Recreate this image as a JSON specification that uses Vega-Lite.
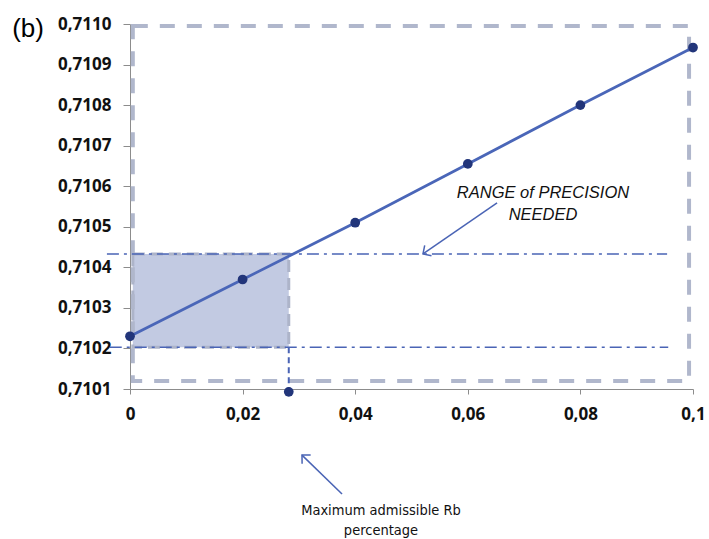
{
  "$schema": "https://vega.github.io/schema/vega-lite/v6.json",
  "width": 563,
  "height": 365,
  "autosize": {"type": "none"},
  "padding": {"left": 130, "top": 24, "right": 16, "bottom": 150},
  "background": "white",
  "config": {
    "view": {"stroke": null},
    "axis": {"grid": false, "labelFlush": false, "domainColor": "#8c8c8c", "tickColor": "#8c8c8c", "labelFont": "Open Sans", "labelFontWeight": "bold", "labelFontSize": 17, "labelColor": "#111111", "title": null}
  },
  "datasets": {
    "pts": [
      {"x": 0, "y": 0.71023},
      {"x": 0.02, "y": 0.71037},
      {"x": 0.04, "y": 0.71051},
      {"x": 0.06, "y": 0.710655},
      {"x": 0.08, "y": 0.7108},
      {"x": 0.1, "y": 0.710942}
    ],
    "box": [{"x": 0.0005, "x2": 0.0993, "y": 0.71012, "y2": 0.710995}],
    "shade": [{"x": 0.0005, "x2": 0.0282, "y": 0.710203, "y2": 0.710433}],
    "hlines": [
      {"x": -0.0041, "x2": 0.0954, "y": 0.710433},
      {"x": -0.0036, "x2": 0.0956, "y": 0.710203}
    ],
    "vline": [{"x": 0.0282, "y": 0.710203, "y2": 0.710093}],
    "marker": [{"x": 0.0282, "y": 0.710093}],
    "arrows": [
      {"name": "range", "x": 0.0652, "y": 0.710559, "x2": 0.05204, "y2": 0.710433},
      {"name": "max", "x": 0.03766, "y": 0.709841, "x2": 0.03055, "y2": 0.709937}
    ],
    "panel": [{"x": -0.0181, "y": 0.710968, "text": "(b)"}],
    "range": [
      {"x": 0.07336, "y": 0.710583, "text": "RANGE of PRECISION"},
      {"x": 0.07336, "y": 0.710529, "text": "NEEDED"}
    ],
    "maxlab": [
      {"x": 0.04458, "y": 0.709799, "text": "Maximum admissible Rb"},
      {"x": 0.04458, "y": 0.709751, "text": "percentage"}
    ]
  },
  "encoding": {
    "x": {"field": "x", "type": "quantitative", "scale": {"domain": [0, 0.1], "nice": false, "zero": false},
      "axis": {"values": [0, 0.02, 0.04, 0.06, 0.08, 0.1], "tickSize": 5, "labelPadding": 12,
        "labelExpr": "datum.value == 0 ? '0' : (datum.value > 0.099 ? '0,1' : replace(format(datum.value, '.2f'), '.', ','))"}},
    "y": {"field": "y", "type": "quantitative", "scale": {"domain": [0.7101, 0.711], "nice": false, "zero": false},
      "axis": {"values": [0.7101, 0.7102, 0.7103, 0.7104, 0.7105, 0.7106, 0.7107, 0.7108, 0.7109, 0.711], "tickSize": 7, "labelPadding": 12,
        "labelExpr": "replace(format(datum.value, '.4f'), '.', ',')"}}
  },
  "layer": [
    {
      "data": {"name": "shade"},
      "mark": {"type": "rect", "fill": "#c2cae2", "stroke": "#adb4c9", "strokeWidth": 3, "strokeDash": [12, 6]},
      "encoding": {"x2": {"field": "x2"}, "y2": {"field": "y2"}}
    },
    {
      "data": {"name": "box"},
      "mark": {"type": "rect", "fill": null, "fillOpacity": 0, "stroke": "#b0b7cc", "strokeWidth": 4, "strokeDash": [15, 12]},
      "encoding": {"x2": {"field": "x2"}, "y2": {"field": "y2"}}
    },
    {
      "data": {"name": "hlines"},
      "mark": {"type": "rule", "color": "#4a64b5", "strokeWidth": 1.6, "strokeDash": [12, 5, 3, 5]},
      "encoding": {"x2": {"field": "x2"}}
    },
    {
      "data": {"name": "vline"},
      "mark": {"type": "rule", "color": "#4a64b5", "strokeWidth": 2, "strokeDash": [6, 4]},
      "encoding": {"y2": {"field": "y2"}}
    },
    {
      "data": {"name": "pts"},
      "mark": {"type": "line", "color": "#4a66b8", "strokeWidth": 2.8},
      "encoding": {}
    },
    {
      "data": {"name": "pts"},
      "mark": {"type": "point", "filled": true, "color": "#22357a", "opacity": 1, "size": 95},
      "encoding": {}
    },
    {
      "data": {"name": "marker"},
      "mark": {"type": "point", "filled": true, "color": "#22357a", "opacity": 1, "size": 95},
      "encoding": {}
    },
    {
      "data": {"name": "arrows"},
      "mark": {"type": "rule", "color": "#4a64b5", "strokeWidth": 1.5},
      "encoding": {"x2": {"field": "x2"}, "y2": {"field": "y2"}}
    },
    {
      "data": {"name": "arrows"},
      "transform": [{"filter": "datum.name == 'range'"}],
      "mark": {"type": "point", "shape": "M -1 1 L 0 0 L 1 1", "filled": false, "color": "#4a64b5", "strokeWidth": 1.5, "opacity": 1, "size": 150, "angle": 236.5},
      "encoding": {"x": {"field": "x2", "type": "quantitative"}, "y": {"field": "y2", "type": "quantitative"}}
    },
    {
      "data": {"name": "arrows"},
      "transform": [{"filter": "datum.name == 'max'"}],
      "mark": {"type": "point", "shape": "M -1 1 L 0 0 L 1 1", "filled": false, "color": "#4a64b5", "strokeWidth": 1.5, "opacity": 1, "size": 150, "angle": 314.3},
      "encoding": {"x": {"field": "x2", "type": "quantitative"}, "y": {"field": "y2", "type": "quantitative"}}
    },
    {
      "data": {"name": "panel"},
      "mark": {"type": "text", "font": "Liberation Sans", "fontSize": 26, "align": "center", "baseline": "alphabetic", "color": "#000000"},
      "encoding": {"text": {"field": "text"}}
    },
    {
      "data": {"name": "range"},
      "mark": {"type": "text", "font": "Liberation Sans", "fontStyle": "italic", "fontSize": 16.5, "align": "center", "baseline": "middle", "color": "#111111"},
      "encoding": {"text": {"field": "text"}}
    },
    {
      "data": {"name": "maxlab"},
      "mark": {"type": "text", "font": "Liberation Sans Narrow, DejaVu Sans Condensed, Liberation Sans", "fontSize": 14.5, "align": "center", "baseline": "middle", "color": "#111111"},
      "encoding": {"text": {"field": "text"}}
    }
  ]
}
